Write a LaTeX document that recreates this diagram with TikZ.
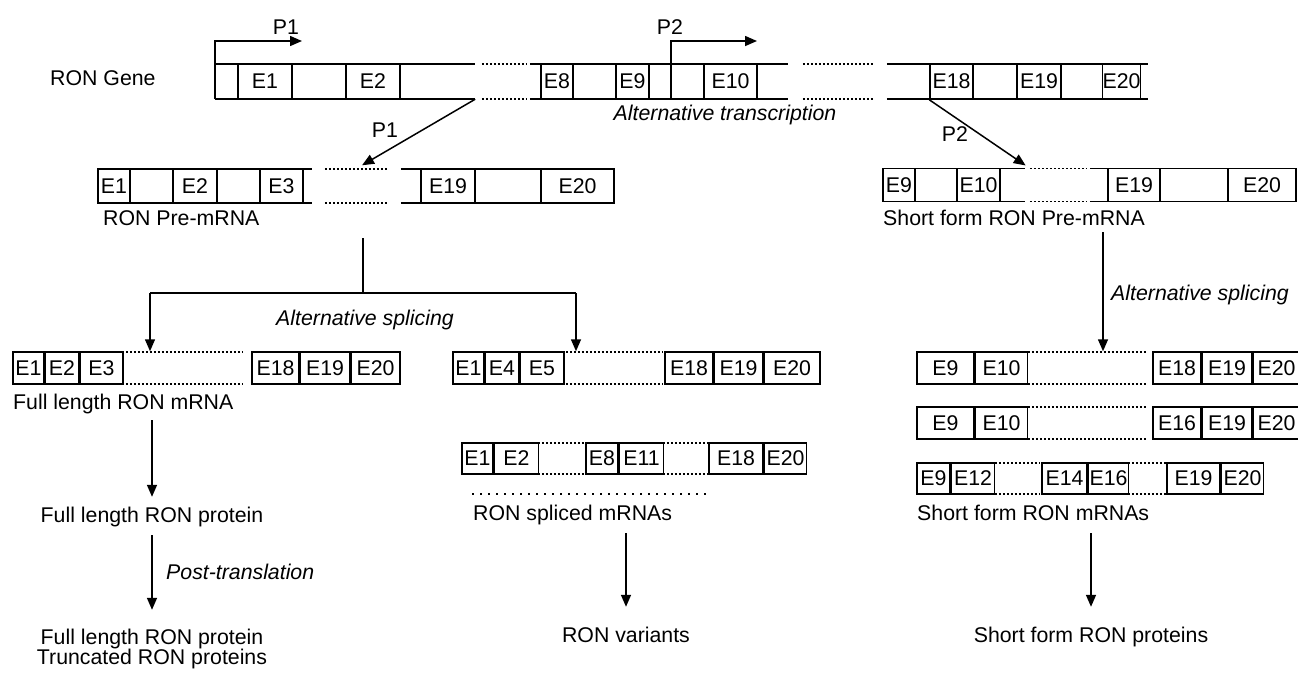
\documentclass[tikz,border=0pt]{standalone}
\usepackage{fontspec}
\setmainfont{Liberation Sans}
\usetikzlibrary{positioning, arrows.meta}
\tikzset{
arr/.style={-{Triangle[length=12pt,width=10pt]}, line width=1.5pt}, % filled arrow heads
exon/.style={draw, rectangle, inner sep=0pt, minimum height=32pt, line width=1.5pt}, % one exon box
seg/.style={rectangle, inner sep=0pt, minimum height=32pt}, % stretch of strand, only top and bottom drawn
dots/.style={line width=1.5pt, dash pattern=on 2.5pt off 1.5pt}, % skipped part
sparse/.style={line width=1.5pt, dash pattern=on 1.5pt off 6.5pt},
lbl/.style={inner sep=3pt, text height=15pt, text depth=4pt},
italic/.style={font=\fontsize{21.3pt}{25pt}\selectfont\itshape},
every node/.style={font=\fontsize{21.3pt}{25pt}\selectfont},
}

\begin{document}
\begin{tikzpicture}[x=1pt, y=-1pt]
\useasboundingbox (0,0) rectangle (1298,673);

        % RON gene
        \begin{scope}[exon/.append style={minimum height=35pt}, seg/.append style={minimum height=35pt}]
        \node[seg, minimum width=260pt] (s1) at (345,81.5) {};
        \node[seg, minimum width=258pt] (s2) at (659,81.5) {};
        \node[seg, minimum width=261pt] (s3) at (1017.5,81.5) {};
        \node[seg, minimum width=44pt] (d1) at (504,81.5) {};
        \node[seg, minimum width=70pt] (d2) at (838,81.5) {};
        \node[exon, minimum width=54pt] (g1) at (265,81.5) {E1};
        \node[exon, minimum width=54pt] (g2) at (373,81.5) {E2};
        \node[exon, minimum width=32pt] (g8) at (557,81.5) {E8};
        \node[exon, minimum width=33pt] (g9) at (632.5,81.5) {E9};
        \node[exon, minimum width=53pt] (g10) at (730.5,81.5) {E10};
        \node[exon, minimum width=43pt] (g18) at (951.5,81.5) {E18};
        \node[exon, minimum width=44pt] (g19) at (1039,81.5) {E19};
        \node[exon, minimum width=37pt] (g20) at (1121.5,81.5) {E20};
        \end{scope}

        % pre-mRNAs
        \begin{scope}[exon/.append style={minimum height=34pt}, seg/.append style={minimum height=34pt}]
        \node[seg, minimum width=214pt] (s4) at (205,186) {};
        \node[seg, minimum width=213pt] (s5) at (507.5,186) {};
        \node[seg, minimum width=62pt] (d3) at (356,186) {};
        \node[exon, minimum width=32pt] (a1) at (114,186) {E1};
        \node[exon, minimum width=44pt] (a2) at (195,186) {E2};
        \node[exon, minimum width=43pt] (a3) at (281.5,186) {E3};
        \node[exon, minimum width=54pt] (a19) at (448,186) {E19};
        \node[exon, minimum width=73pt] (a20) at (577.5,186) {E20};
        \end{scope}
        \begin{scope}[exon/.append style={minimum height=33pt}, seg/.append style={minimum height=33pt}]
        \node[seg, minimum width=142pt] (s6) at (954,185) {};
        \node[seg, minimum width=206pt] (s7) at (1193,185) {};
        \node[seg, minimum width=57pt] (d4) at (1058.5,185) {};
        \node[exon, minimum width=32pt] (b9) at (899,185) {E9};
        \node[exon, minimum width=43pt] (b10) at (978.5,185) {E10};
        \node[exon, minimum width=52pt] (b19) at (1134,185) {E19};
        \node[exon, minimum width=68pt] (b20) at (1262,185) {E20};
        \end{scope}

        % spliced mRNAs
        \node[exon, minimum width=31pt] (f1) at (28.5,368) {E1};
        \node[exon, minimum width=33pt, right=0pt of f1] (f2) {E2};
        \node[exon, minimum width=43pt, right=0pt of f2] (f3) {E3};
        \node[seg, minimum width=121pt] (d5) at (182.5,368) {};
        \node[exon, minimum width=47pt] (f18) at (275.5,368) {E18};
        \node[exon, minimum width=49pt, right=0pt of f18] (f19) {E19};
        \node[exon, minimum width=49pt, right=0pt of f19] (f20) {E20};

        \node[exon, minimum width=31pt] (v1) at (468.5,368) {E1};
        \node[exon, minimum width=33pt, right=0pt of v1] (v4) {E4};
        \node[exon, minimum width=44pt, right=0pt of v4] (v5) {E5};
        \node[seg, minimum width=101pt] (d6) at (612.5,368) {};
        \node[exon, minimum width=48pt] (v18) at (689,368) {E18};
        \node[exon, minimum width=48pt, right=0pt of v18] (v19) {E19};
        \node[exon, minimum width=56pt, right=0pt of v19] (v20) {E20};

        \node[exon, minimum width=57pt] (h9) at (945.5,368) {E9};
        \node[exon, minimum width=52pt, right=0pt of h9] (h10) {E10};
        \node[seg, minimum width=119pt] (d9) at (1087.5,368) {};
        \node[exon, minimum width=48pt] (h18) at (1177,368) {E18};
        \node[exon, minimum width=49pt, right=0pt of h18] (h19) {E19};
        \node[exon, minimum width=47pt, right=0pt of h19] (h20) {E20};

        \node[exon, minimum width=57pt] (k9) at (945.5,423) {E9};
        \node[exon, minimum width=52pt, right=0pt of k9] (k10) {E10};
        \node[seg, minimum width=119pt] (d10) at (1087.5,423) {};
        \node[exon, minimum width=48pt] (k16) at (1177,423) {E16};
        \node[exon, minimum width=49pt, right=0pt of k16] (k19) {E19};
        \node[exon, minimum width=47pt, right=0pt of k19] (k20) {E20};

        \begin{scope}[exon/.append style={minimum height=31pt}, seg/.append style={minimum height=31pt}]
        \node[exon, minimum width=31pt] (c1) at (477.5,458.5) {E1};
        \node[exon, minimum width=44pt, right=0pt of c1] (c2) {E2};
        \node[seg, minimum width=47pt] (d7) at (561.5,458.5) {};
        \node[exon, minimum width=32pt] (c8) at (602,458.5) {E8};
        \node[exon, minimum width=44pt, right=0pt of c8] (c11) {E11};
        \node[seg, minimum width=46pt] (d8) at (686,458.5) {};
        \node[exon, minimum width=54pt] (c18) at (736,458.5) {E18};
        \node[exon, minimum width=42pt, right=0pt of c18] (c20) {E20};

        \node[exon, minimum width=33pt] (m9) at (933.5,478.5) {E9};
        \node[exon, minimum width=43pt, right=0pt of m9] (m12) {E12};
        \node[seg, minimum width=45pt] (d11) at (1017.5,478.5) {};
        \node[exon, minimum width=45pt] (m14) at (1064.5,478.5) {E14};
        \node[exon, minimum width=40pt, right=0pt of m14] (m16) {E16};
        \node[seg, minimum width=38pt] (d12) at (1147,478.5) {};
        \node[exon, minimum width=53pt] (m19) at (1193.5,478.5) {E19};
        \node[exon, minimum width=42pt, right=0pt of m19] (m20) {E20};
        \end{scope}

        % strands and gaps
        \foreach \s in {s1,s2,s3,s4,s5,s6,s7}
          \draw[line width=1.5pt] (\s.north west) -- (\s.north east) (\s.south west) -- (\s.south east);
        \foreach \i in {1,...,12}
          \draw[dots] (d\i.north west) -- (d\i.north east) (d\i.south west) -- (d\i.south east);
        \coordinate (ul1) at (472,494);
        \coordinate (ul2) at (710,494);
        \draw[sparse] (ul1) -- (ul2);

        % promoters
        \coordinate (p1) at (302,41);
        \coordinate (p2a) at (671,99);
        \coordinate (p2) at (757,41);
        \draw[arr] (s1.south west) |- (p1);
        \draw[arr] (p2a) |- (p2);

        % labels
        \node[lbl, anchor=west] (gene) at (47,80) {RON Gene};
        \node[lbl] (lp1) at (286,29) {P1};
        \node[lbl] (lp2) at (670,29) {P2};
        \node[lbl] (tp1) at (385,132) {P1};
        \node[lbl] (tp2) at (955,136) {P2};
        \node[lbl, italic] (alttr) at (725,115) {Alternative transcription};
        \node[lbl, anchor=west] (pre) at (100,220) {RON Pre-mRNA};
        \node[lbl, anchor=west] (spre) at (880,220) {Short form RON Pre-mRNA};
        \node[lbl, italic] (altsp) at (365,320) {Alternative splicing};
        \node[lbl, italic] (altsp2) at (1200,295) {Alternative splicing};
        \node[lbl, anchor=west] (fmrna) at (10,404) {Full length RON mRNA};
        \node[lbl] (fprot) at (152,517) {Full length RON protein};
        \node[lbl, italic, anchor=west] (post) at (163,574) {Post-translation};
        \node[lbl] (fprot2) at (152,639) {Full length RON protein};
        \node[lbl] (trunc) at (152,659) {Truncated RON proteins};
        \node[lbl, anchor=west] (smrna) at (470,515) {RON spliced mRNAs};
        \node[lbl] (var) at (626,637) {RON variants};
        \node[lbl, anchor=west] (sfmrna) at (914,515) {Short form RON mRNAs};
        \node[lbl] (sfprot) at (1091,637) {Short form RON proteins};

        % transcription
        \draw[arr, shorten >=7pt] (s1.south east) -- (d3.north);
        \draw[arr, shorten >=5pt] (g18.south west) -- (d4.north west);

        % splicing
        \coordinate (sp0) at (363,238);
        \coordinate (spl) at (150,293);
        \coordinate (spr) at (576,293);
        \draw[line width=1.5pt] (sp0) -- (sp0 |- spl) (spl) -- (spr);
        \draw[arr] (spl) -- (spl |- f1.north);
        \draw[arr] (spr) -- (spr |- v1.north);
        \coordinate (rs) at (1103,232);
        \draw[arr] (rs) -- (rs |- h9.north);

        % translation
        \draw[arr, shorten <=3.5pt, shorten >=7.5pt] (fmrna.south -| fprot.north) -- (fprot.north);
        \draw[arr, shorten <=5.5pt, shorten >=16.5pt] (fprot) -- (fprot2);
        \draw[arr, shorten <=5.5pt, shorten >=17.5pt] (smrna.south -| var.north) -- (var.north);
        \draw[arr, shorten <=5.5pt, shorten >=17.5pt] (sfmrna.south -| sfprot.north) -- (sfprot.north);
\end{tikzpicture}
\end{document}
